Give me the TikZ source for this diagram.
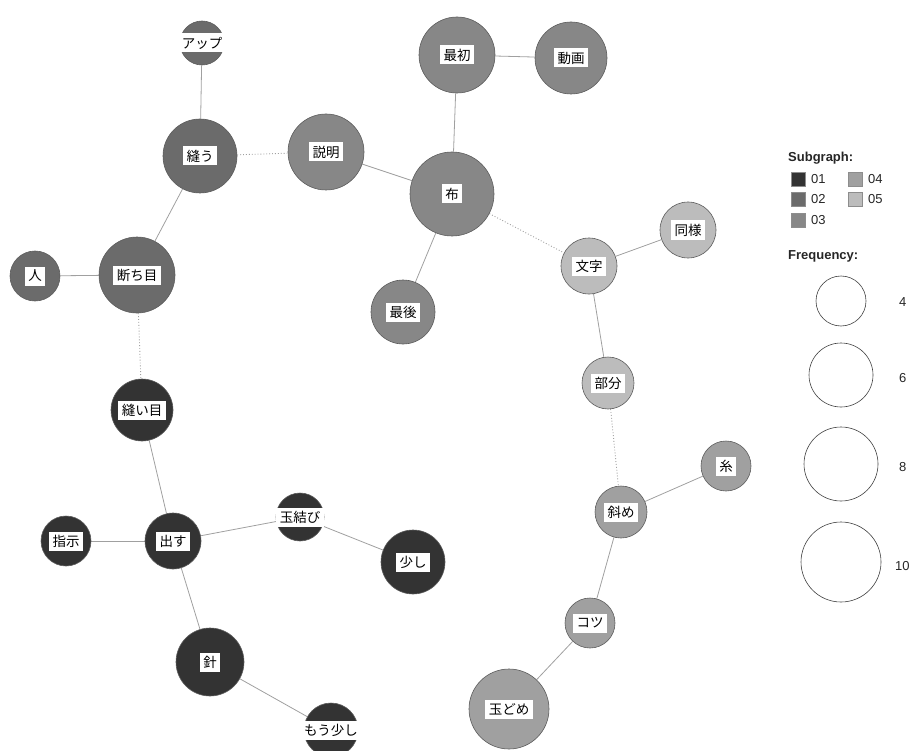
\documentclass[tikz,border=0pt]{standalone}
\usepackage{fontspec}
\setmainfont{Liberation Sans}
\newfontfamily\jpfont{Noto Sans CJK JP}
\usetikzlibrary{backgrounds}
\definecolor{sgA}{HTML}{333333}
\definecolor{sgB}{HTML}{6B6B6B}
\definecolor{sgC}{HTML}{878787}
\definecolor{sgD}{HTML}{A0A0A0}
\definecolor{sgE}{HTML}{BCBCBC}
\definecolor{rimcol}{HTML}{5C5C5C}
\definecolor{edgecol}{HTML}{A0A0A0}
\tikzset{
  word/.style={circle, draw=rimcol, line width=0.6pt, inner sep=0pt, minimum size=#1},
  lbl/.style={fill=white, inner xsep=3.5pt, inner ysep=2pt, minimum height=19pt,
    font=\jpfont\fontsize{13.5}{13.5}\selectfont, text=black},
  link/.style={draw=edgecol, line width=0.8pt},
  xlink/.style={draw=edgecol, line width=0.9pt, dotted},
  sq/.style={draw=rimcol!70, line width=0.4pt, minimum size=14pt, inner sep=0pt},
  legtxt/.style={font=\fontsize{13}{13}\selectfont, text=black!85, anchor=west, inner sep=0pt},
  legtitle/.style={font=\bfseries\fontsize{13}{13}\selectfont, text=black!85, anchor=west, inner sep=0pt},
  ring/.style={circle, draw=black!75, line width=0.6pt, inner sep=0pt, minimum size=#1}
}
\begin{document}
\begin{tikzpicture}[x=1pt, y=-1pt]
\useasboundingbox (0,0) rectangle (917,751);
% subgraph 02
\node[word=44pt, fill=sgB, label={[lbl]center:アップ}] (up) at (202,43) {};
\node[word=74pt, fill=sgB, label={[lbl]center:縫う}] (nuu) at (200,156) {};
\node[word=50pt, fill=sgB, label={[lbl]center:人}] (hito) at (35,276) {};
\node[word=76pt, fill=sgB, label={[lbl]center:断ち目}] (tachi) at (137,275) {};
% subgraph 03
\node[word=76pt, fill=sgC, label={[lbl]center:説明}] (setsu) at (326,152) {};
\node[word=76pt, fill=sgC, label={[lbl]center:最初}] (saisho) at (457,55) {};
\node[word=72pt, fill=sgC, label={[lbl]center:動画}] (douga) at (571,58) {};
\node[word=84pt, fill=sgC, label={[lbl]center:布}] (nuno) at (452,194) {};
\node[word=64pt, fill=sgC, label={[lbl]center:最後}] (saigo) at (403,312) {};
% subgraph 05
\node[word=56pt, fill=sgE, label={[lbl]center:文字}] (moji) at (589,266) {};
\node[word=56pt, fill=sgE, label={[lbl]center:同様}] (douyou) at (688,230) {};
\node[word=52pt, fill=sgE, label={[lbl]center:部分}] (bubun) at (608,383) {};
% subgraph 04
\node[word=50pt, fill=sgD, label={[lbl]center:糸}] (ito) at (726,466) {};
\node[word=52pt, fill=sgD, label={[lbl]center:斜め}] (naname) at (621,512) {};
\node[word=50pt, fill=sgD, label={[lbl]center:コツ}] (kotsu) at (590,623) {};
\node[word=80pt, fill=sgD, label={[lbl]center:玉どめ}] (tamadome) at (509,709) {};
% subgraph 01
\node[word=62pt, fill=sgA, label={[lbl]center:縫い目}] (nuime) at (142,410) {};
\node[word=56pt, fill=sgA, label={[lbl]center:出す}] (dasu) at (173,541) {};
\node[word=50pt, fill=sgA, label={[lbl]center:指示}] (shiji) at (66,541) {};
\node[word=48pt, fill=sgA, label={[lbl]center:玉結び}] (tamamusu) at (300,517) {};
\node[word=64pt, fill=sgA, label={[lbl]center:少し}] (sukoshi) at (413,562) {};
\node[word=68pt, fill=sgA, label={[lbl]center:針}] (hari) at (210,662) {};
\node[word=54pt, fill=sgA, label={[lbl]center:もう少し}] (mou) at (331,730) {};
% connectors
\begin{scope}[on background layer]
\draw[link] (up) -- (nuu);
\draw[link] (nuu) -- (tachi);
\draw[link] (hito) -- (tachi);
\draw[xlink] (nuu) -- (setsu);
\draw[link] (setsu) -- (nuno);
\draw[link] (saisho) -- (nuno);
\draw[link] (saisho) -- (douga);
\draw[link] (nuno) -- (saigo);
\draw[xlink] (nuno) -- (moji);
\draw[link] (moji) -- (douyou);
\draw[link] (moji) -- (bubun);
\draw[xlink] (bubun) -- (naname);
\draw[link] (naname) -- (ito);
\draw[link] (naname) -- (kotsu);
\draw[link] (kotsu) -- (tamadome);
\draw[xlink] (tachi) -- (nuime);
\draw[link] (nuime) -- (dasu);
\draw[link] (shiji) -- (dasu);
\draw[link] (dasu) -- (tamamusu);
\draw[link] (tamamusu) -- (sukoshi);
\draw[link] (dasu) -- (hari);
\draw[link] (hari) -- (mou);
\end{scope}
% legend
\node[legtitle] (subt) at (788,158) {Subgraph:};
\node[sq, fill=sgA] (s1) at (798,179) {};
\node[legtxt] (t1) at (811,179) {01};
\node[sq, fill=sgB] (s2) at (798,199) {};
\node[legtxt] (t2) at (811,199) {02};
\node[sq, fill=sgC] (s3) at (798,220) {};
\node[legtxt] (t3) at (811,220) {03};
\node[sq, fill=sgD] (s4) at (855,179) {};
\node[legtxt] (t4) at (868,179) {04};
\node[sq, fill=sgE] (s5) at (855,199) {};
\node[legtxt] (t5) at (868,199) {05};
\node[legtitle] (freqt) at (788,256) {Frequency:};
\node[ring=50pt] (f4) at (841,301) {};
\node[legtxt] (n4) at (899,302) {4};
\node[ring=64pt] (f6) at (841,375) {};
\node[legtxt] (n6) at (899,378) {6};
\node[ring=74pt] (f8) at (841,464) {};
\node[legtxt] (n8) at (899,467) {8};
\node[ring=80pt] (f10) at (841,562) {};
\node[legtxt] (n10) at (895,566) {10};
\end{tikzpicture}
\end{document}
